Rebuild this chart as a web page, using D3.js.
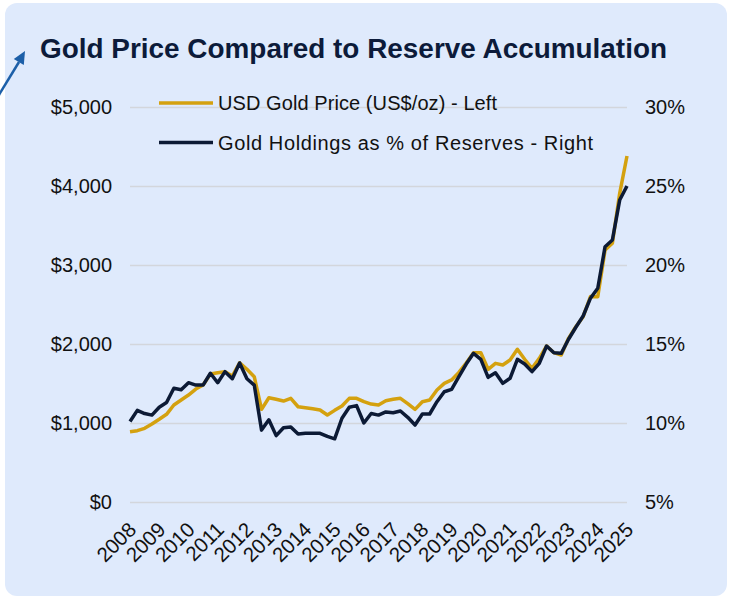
<!DOCTYPE html>
<html>
<head>
<meta charset="utf-8">
<script src="https://cdnjs.cloudflare.com/ajax/libs/d3/7.8.5/d3.min.js"></script>
<style>
  body { margin: 0; background: #ffffff; }
  text { font-family: "Liberation Sans", Arial, sans-serif; }
</style>
</head>
<body>
<script>
// quarterly points, 2008 .. 2025 (labels every 4th point)
var yearLabels = ["2008","2009","2010","2011","2012","2013","2014","2015","2016",
                  "2017","2018","2019","2020","2021","2022","2023","2024","2025"];

// USD gold price (US$/oz) - left axis
var goldPrice = [890, 903, 933, 987, 1047, 1110, 1228, 1291, 1354, 1430,
                 1481, 1620, 1637, 1650, 1595, 1763, 1680, 1586, 1173, 1320,
                 1300, 1278, 1312, 1206, 1194, 1180, 1165, 1101, 1160, 1215,
                 1312, 1312, 1270, 1240, 1228, 1282, 1300, 1312, 1245, 1173,
                 1270, 1291, 1418, 1502, 1545, 1640, 1760, 1890, 1890, 1680,
                 1755, 1734, 1797, 1933, 1806, 1692, 1819, 1975, 1890, 1861,
                 2072, 2219, 2346, 2600, 2599, 3190, 3275, 3907, 4380];

// gold holdings as % of reserves - right axis
var goldShare = [10.1, 10.8, 10.6, 10.5, 11.0, 11.3, 12.2, 12.1, 12.55, 12.4,
                 12.4, 13.15, 12.55, 13.25, 12.8, 13.8, 12.8, 12.4, 9.55, 10.2,
                 9.2, 9.7, 9.75, 9.3, 9.35, 9.35, 9.35, 9.15, 9.0, 10.3,
                 11.0, 11.1, 10.0, 10.6, 10.5, 10.7, 10.65, 10.76, 10.36, 9.87,
                 10.57, 10.57, 11.35, 11.98, 12.13, 12.93, 13.73, 14.41, 14.03, 12.89,
                 13.18, 12.51, 12.83, 14.03, 13.73, 13.25, 13.78, 14.87, 14.45, 14.41,
                 15.3, 16.06, 16.77, 17.9, 18.53, 21.16, 21.58, 24.11, 25.0];

var priceTicks = [0, 1000, 2000, 3000, 4000, 5000];
var shareTicks = [5, 10, 15, 20, 25, 30];

var legendNames = ["USD Gold Price (US$/oz) - Left", "Gold Holdings as % of Reserves - Right"];
var legendWidths = [279, 375]; // measured text widths in the picture

var goldColor = "#d4a10f";
var navyColor = "#0c1a35";

var W = 730, H = 599;
var plotLeft = 130, plotRight = 627, plotTop = 107, plotBottom = 502;

var svg = d3.select("body").append("svg").attr("width", W).attr("height", H);

// light blue panel
svg.append("rect")
  .attr("x", 5).attr("y", 3)
  .attr("width", 722).attr("height", 593)
  .attr("rx", 12)
  .attr("fill", "#dfeafc");

// little arrow pointing at the title
svg.append("line")
  .attr("x1", -3).attr("y1", 98).attr("x2", 19).attr("y2", 62)
  .attr("stroke", "#1c5fa8").attr("stroke-width", 2.5);
svg.append("polygon")
  .attr("points", "25,51 23.8,65 13.8,59")
  .attr("fill", "#1c5fa8");

svg.append("text")
  .attr("x", 40).attr("y", 58)
  .attr("font-size", "27px")
  .attr("font-weight", "bold")
  .attr("fill", "#0c1b3a")
  .attr("textLength", 627)
  .attr("lengthAdjust", "spacingAndGlyphs")
  .text("Gold Price Compared to Reserve Accumulation");

// scales
var xScale = d3.scaleLinear().domain([0, goldPrice.length - 1]).range([plotLeft, plotRight]);
var yLeft = d3.scaleLinear().domain([0, 5000]).range([plotBottom, plotTop]);
var yRight = d3.scaleLinear().domain([5, 30]).range([plotBottom, plotTop]);

// left axis + gridlines
var leftAxis = d3.axisLeft(yLeft)
  .tickValues(priceTicks)
  .tickSize(-(plotRight - plotLeft))
  .tickPadding(18)
  .tickFormat(function(d) { return "$" + d3.format(",")(d); });

var gLeft = svg.append("g")
  .attr("transform", "translate(" + plotLeft + ",0)")
  .call(leftAxis);
gLeft.select(".domain").remove();
gLeft.selectAll("line").attr("stroke", "#d3d6dc").attr("stroke-width", 1.3);
gLeft.selectAll("text").attr("font-size", "20px").attr("fill", "#111").attr("font-family", "Liberation Sans, Arial, sans-serif");

// right axis
var rightAxis = d3.axisRight(yRight)
  .tickValues(shareTicks)
  .tickSize(0)
  .tickPadding(18)
  .tickFormat(function(d) { return d + "%"; });

var gRight = svg.append("g")
  .attr("transform", "translate(" + plotRight + ",0)")
  .call(rightAxis);
gRight.select(".domain").remove();
gRight.selectAll("text").attr("font-size", "20px").attr("fill", "#111").attr("font-family", "Liberation Sans, Arial, sans-serif");

// x axis, year labels on every 4th quarter
var xAxis = d3.axisBottom(xScale)
  .tickValues(yearLabels.map(function(d, i) { return i * 4; }))
  .tickSize(0)
  .tickFormat(function(d) { return yearLabels[d / 4]; });

var gX = svg.append("g")
  .attr("transform", "translate(0," + plotBottom + ")")
  .call(xAxis);
gX.select(".domain").remove();
gX.selectAll("text")
  .attr("font-size", "20.5px")
  .attr("fill", "#111")
  .attr("font-family", "Liberation Sans, Arial, sans-serif")
  .attr("text-anchor", "end")
  .attr("dy", "0")
  .attr("y", 0)
  .attr("transform", "translate(7,29) rotate(-45)");

// lines
var goldLine = d3.line()
  .x(function(d, i) { return xScale(i); })
  .y(function(d) { return yLeft(d); });
var shareLine = d3.line()
  .x(function(d, i) { return xScale(i); })
  .y(function(d) { return yRight(d); });

svg.append("path")
  .datum(goldPrice)
  .attr("d", goldLine)
  .attr("fill", "none")
  .attr("stroke", goldColor)
  .attr("stroke-width", 3.5)
  .attr("stroke-linejoin", "round");

svg.append("path")
  .datum(goldShare)
  .attr("d", shareLine)
  .attr("fill", "none")
  .attr("stroke", navyColor)
  .attr("stroke-width", 3.5)
  .attr("stroke-linejoin", "round");

// legend
var legend = svg.selectAll(".legend")
  .data(legendNames)
  .enter()
  .append("g")
  .attr("class", "legend")
  .attr("transform", function(d, i) { return "translate(159," + (103 + i * 39.5) + ")"; });

legend.append("line")
  .attr("x1", 0).attr("x2", 54)
  .attr("stroke", function(d, i) { return i == 0 ? goldColor : navyColor; })
  .attr("stroke-width", 3.5);

legend.append("text")
  .attr("x", 59).attr("y", 7)
  .attr("font-size", "20px")
  .attr("fill", "#111")
  .attr("textLength", function(d, i) { return legendWidths[i]; })
  .attr("lengthAdjust", "spacing")
  .text(function(d) { return d; });
</script>
</body>
</html>
